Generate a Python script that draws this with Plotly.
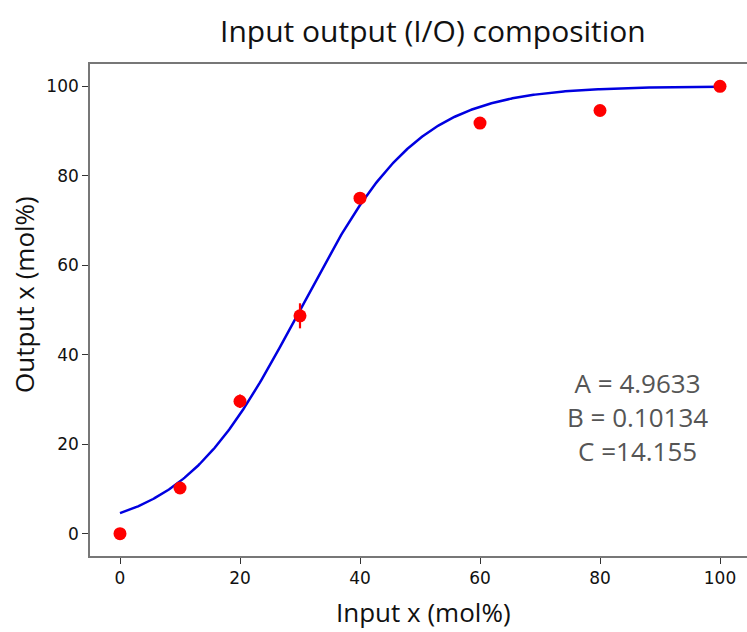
import numpy as np
import plotly.graph_objects as go

# Measured data points
input_x = [0, 10, 20, 30, 40, 60, 80, 100]
output_x = [0.0, 10.2, 29.6, 48.7, 75.0, 91.8, 94.6, 100.0]
output_err = [0.0, 0.0, 1.5, 2.8, 0.8, 0.0, 0.0, 0.0]

# Fit parameters shown on the chart
A = 4.9633
B = 0.10134
C = 14.155

x_ticks = [0, 20, 40, 60, 80, 100]
y_ticks = [0, 20, 40, 60, 80, 100]

# Fitted curve from the displayed model parameters
fit_x = np.linspace(0, 100, 400)
fit_y = 100.0 / (1.0 + A * np.exp(-B * (fit_x - C)))

W, H = 747, 632
ML, MR, MT, MB = 90, 0, 64, 76

fig = go.Figure()
fig.add_trace(go.Scatter(
    x=fit_x, y=fit_y, mode="lines",
    line=dict(color="#0000e0", width=2.5),
    hoverinfo="skip", showlegend=False,
))
fig.add_trace(go.Scatter(
    x=input_x, y=output_x, mode="markers",
    marker=dict(color="#ff0000", size=13),
    error_y=dict(type="data", array=output_err, visible=True,
                 color="#ff0000", thickness=2.2, width=0),
    showlegend=False,
))

tick_font = dict(family="DejaVu Sans", size=17, color="#111111")
fig.update_xaxes(
    range=[-5, -5 + (W - ML - MR) / 6.0],
    tickvals=x_ticks, ticktext=[str(v) for v in x_ticks],
    showgrid=False, zeroline=False,
    showline=True, linecolor="#777777", linewidth=1.6, mirror=True,
    ticks="outside", ticklen=6, tickwidth=1.3, tickcolor="#333333",
    tickfont=tick_font,
)
fig.update_yaxes(
    range=[-5, 105],
    tickvals=y_ticks, ticktext=[str(v) for v in y_ticks],
    showgrid=False, zeroline=False,
    showline=True, linecolor="#777777", linewidth=1.6, mirror=False,
    ticks="outside", ticklen=6, tickwidth=1.3, tickcolor="#333333",
    tickfont=tick_font,
)

label_font = "Open Sans"
# (text, px x, px y, size, color, angle)
texts = [
    ("Input output (I/O) composition", 433, 30, 30, "#111111", 0),
    ("Input x (mol%)", 423, 612, 26, "#111111", 0),
    ("Output x (mol%)", 24, 295, 26, "#111111", -90),
    ("A = 4.9633<br>B = 0.10134<br>C =14.155", 637, 417, 26, "#555555", 0),
]
pw, ph = W - ML - MR, H - MT - MB
annotations = []
for t, px, py, sz, col, ang in texts:
    annotations.append(dict(
        text=t, x=(px - ML) / pw, y=(H - MB - py) / ph,
        xref="paper", yref="paper", showarrow=False, align="center",
        textangle=ang, font=dict(family=label_font, size=sz, color=col),
        xanchor="center", yanchor="middle",
    ))

fig.update_layout(
    width=W, height=H,
    margin=dict(l=ML, r=MR, t=MT, b=MB),
    paper_bgcolor="white", plot_bgcolor="white",
    annotations=annotations,
)

fig.write_html(
    "out.html",
    config={"displayModeBar": False},
    post_script="document.body.style.margin='0';document.body.style.overflow='hidden';",
)
